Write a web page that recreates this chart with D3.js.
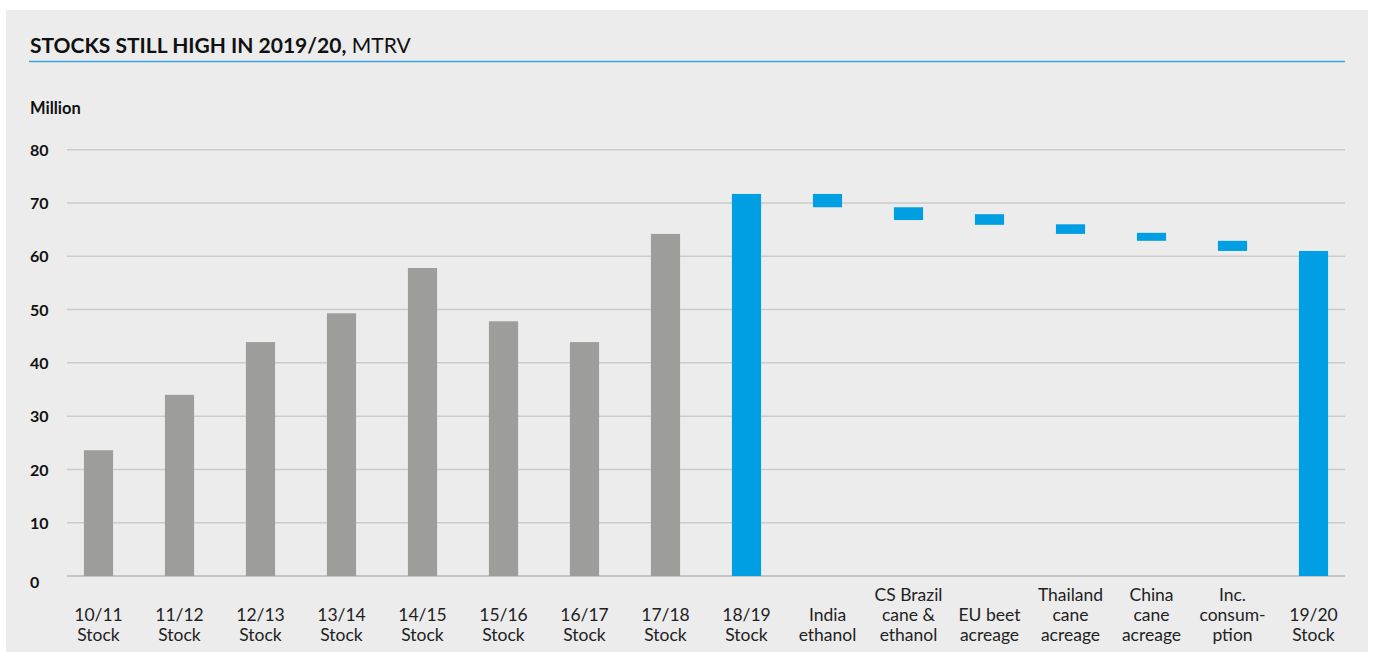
<!DOCTYPE html>
<html>
<head>
<meta charset="utf-8">
<script src="https://cdn.jsdelivr.net/npm/d3@7"></script>
<style>
  html, body { margin: 0; padding: 0; background: #ffffff; }
  svg { display: block; }
  text { font-family: "Source Sans Pro", "Lato", "Noto Sans", sans-serif; }
</style>
</head>
<body>
<svg id="chart" width="1375" height="652"></svg>
<script>
// ---- data ----
const categories = [
  ["10/11", "Stock"], ["11/12", "Stock"], ["12/13", "Stock"], ["13/14", "Stock"],
  ["14/15", "Stock"], ["15/16", "Stock"], ["16/17", "Stock"], ["17/18", "Stock"],
  ["18/19", "Stock"], ["India", "ethanol"], ["CS Brazil", "cane &", "ethanol"],
  ["EU beet", "acreage"], ["Thailand", "cane", "acreage"], ["China", "cane", "acreage"],
  ["Inc.", "consum-", "ption"], ["19/20", "Stock"]
];
// bar start (bottom) and end (top) values, million tonnes raw value
const barLow  = [0, 0, 0, 0, 0, 0, 0, 0, 0, 69.2, 66.8, 65.9, 64.2, 62.9, 61.0, 0];
const barHigh = [23.6, 34.0, 43.9, 49.3, 57.8, 47.8, 43.9, 64.2, 71.7, 71.7, 69.2, 67.9, 66.0, 64.4, 62.9, 61.0];
const barType = ["hist","hist","hist","hist","hist","hist","hist","hist","stock","change","change","change","change","change","change","stock"];
const yTicks = [0, 10, 20, 30, 40, 50, 60, 70, 80];
const titleBold = "STOCKS STILL HIGH IN 2019/20,";
const titleRest = " MTRV";
const unitLabel = "Million";

// ---- drawing ----
const svg = d3.select("#chart");
svg.append("rect").attr("x", 6).attr("y", 10).attr("width", 1362).attr("height", 642).attr("fill", "#ececec");

const title = svg.append("text").attr("x", 30).attr("y", 53)
  .attr("font-size", 21).attr("fill", "#111");
title.append("tspan").attr("font-weight", 700).text(titleBold);
title.append("tspan").attr("font-weight", 400).text(titleRest);

svg.append("line").attr("x1", 29).attr("x2", 1345).attr("y1", 61.5).attr("y2", 61.5)
  .attr("stroke", "#3ba3dd").attr("stroke-width", 1.5);

svg.append("text").attr("x", 30).attr("y", 114).attr("font-size", 16.5).attr("font-weight", 700)
  .attr("fill", "#111").text(unitLabel);

const y = d3.scaleLinear().domain([0, 80]).range([576, 149.7]);
const x = d3.scaleBand().domain(d3.range(categories.length))
  .range([58, 1354]).paddingInner(0.64).paddingOuter(0.32);

// y labels
const yAxis = d3.axisLeft(y).tickValues(yTicks).tickSize(0).tickPadding(0);
const gy = svg.append("g").attr("transform", "translate(67,0)").call(yAxis);
gy.select(".domain").remove();
gy.selectAll(".tick line").remove();
gy.selectAll(".tick text").attr("x", -37).attr("dy", "0.35em").attr("text-anchor", "start")
  .attr("font-size", 16).attr("font-weight", 700).attr("fill", "#111")
  .attr("transform", d => d === 0 ? "translate(0,6)" : null);

// gridlines
svg.append("g").selectAll("line").data(yTicks).join("line")
  .attr("x1", 67).attr("x2", 1345)
  .attr("y1", d => y(d)).attr("y2", d => y(d))
  .attr("stroke", d => d === 0 ? "#b8b8b8" : "#cbcbcb").attr("stroke-width", 1.5);

// bars
const colors = { hist: "#9d9d9b", stock: "#009fe3", change: "#009fe3" };
svg.append("g").selectAll("rect").data(categories.map((c, i) => i)).join("rect")
  .attr("x", i => x(i))
  .attr("width", x.bandwidth())
  .attr("y", i => y(barHigh[i]))
  .attr("height", i => y(barLow[i]) - y(barHigh[i]))
  .attr("fill", i => colors[barType[i]]);

// x labels
const xl = svg.append("g");
categories.forEach((lines, i) => {
  const cx = x(i) + x.bandwidth() / 2;
  const n = lines.length;
  lines.forEach((t, k) => {
    xl.append("text").attr("x", cx).attr("y", 641 - (n - 1 - k) * 20)
      .attr("text-anchor", "middle").attr("font-size", 17.5).attr("fill", "#222").text(t);
  });
});
</script>
</body>
</html>
